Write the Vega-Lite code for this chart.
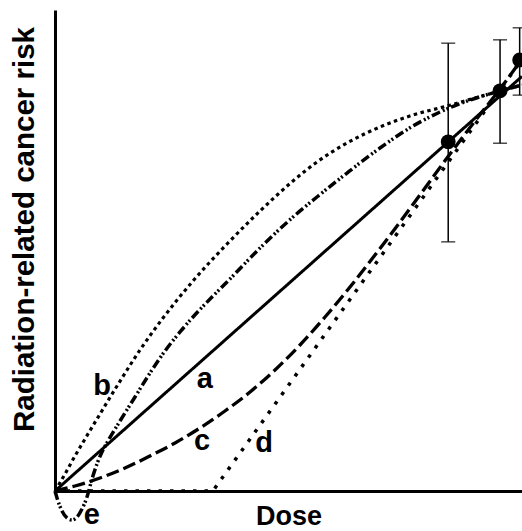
{
  "$schema": "https://vega.github.io/schema/vega-lite/v6.json",
  "width": 467,
  "height": 481,
  "autosize": {"type": "none"},
  "padding": {"left": 55, "top": 10, "right": 0, "bottom": 40},
  "background": "white",
  "view": {"stroke": null},
  "config": {"font": "Liberation Sans"},
  "datasets": {
    "curves": [
      {"curve": "a", "dose": 0, "risk": 0},
      {"curve": "a", "dose": 100, "risk": 86.2},
      {"curve": "b", "dose": 0, "risk": 0},
      {"curve": "b", "dose": 2.14, "risk": 3.53},
      {"curve": "b", "dose": 4.28, "risk": 7.28},
      {"curve": "b", "dose": 6.42, "risk": 10.81},
      {"curve": "b", "dose": 9.64, "risk": 16.01},
      {"curve": "b", "dose": 13.28, "risk": 21.83},
      {"curve": "b", "dose": 18.2, "risk": 29.31},
      {"curve": "b", "dose": 23.13, "risk": 35.97},
      {"curve": "b", "dose": 29.55, "risk": 43.66},
      {"curve": "b", "dose": 36.83, "risk": 51.35},
      {"curve": "b", "dose": 43.9, "risk": 58.21},
      {"curve": "b", "dose": 50.96, "risk": 64.45},
      {"curve": "b", "dose": 56.1, "risk": 68.4},
      {"curve": "b", "dose": 62.53, "risk": 72.35},
      {"curve": "b", "dose": 69.59, "risk": 75.68},
      {"curve": "b", "dose": 76.66, "risk": 78.17},
      {"curve": "b", "dose": 83.94, "risk": 80.04},
      {"curve": "b", "dose": 89.94, "risk": 81.7},
      {"curve": "b", "dose": 95.29, "risk": 83.16},
      {"curve": "b", "dose": 100, "risk": 84.41},
      {"curve": "c", "dose": 0, "risk": 0},
      {"curve": "c", "dose": 4.28, "risk": 1.04},
      {"curve": "c", "dose": 9.64, "risk": 2.7},
      {"curve": "c", "dose": 14.99, "risk": 4.78},
      {"curve": "c", "dose": 20.34, "risk": 7.28},
      {"curve": "c", "dose": 25.7, "risk": 9.98},
      {"curve": "c", "dose": 31.05, "risk": 13.1},
      {"curve": "c", "dose": 36.4, "risk": 16.63},
      {"curve": "c", "dose": 41.76, "risk": 20.58},
      {"curve": "c", "dose": 47.11, "risk": 25.16},
      {"curve": "c", "dose": 52.46, "risk": 30.35},
      {"curve": "c", "dose": 57.82, "risk": 36.17},
      {"curve": "c", "dose": 63.17, "risk": 42.41},
      {"curve": "c", "dose": 68.52, "risk": 49.06},
      {"curve": "c", "dose": 73.88, "risk": 55.93},
      {"curve": "c", "dose": 79.23, "risk": 62.99},
      {"curve": "c", "dose": 84.58, "risk": 70.06},
      {"curve": "c", "dose": 89.94, "risk": 76.92},
      {"curve": "c", "dose": 95.29, "risk": 83.58},
      {"curve": "c", "dose": 100, "risk": 89.81},
      {"curve": "d", "dose": 0, "risk": 0},
      {"curve": "d", "dose": 33.8, "risk": 0},
      {"curve": "d", "dose": 100, "risk": 89.8},
      {"curve": "e", "dose": 0, "risk": 0},
      {"curve": "e", "dose": 0.64, "risk": -2.08},
      {"curve": "e", "dose": 1.5, "risk": -4.16},
      {"curve": "e", "dose": 2.57, "risk": -5.61},
      {"curve": "e", "dose": 3.64, "risk": -6.03},
      {"curve": "e", "dose": 4.71, "risk": -5.41},
      {"curve": "e", "dose": 5.78, "risk": -3.74},
      {"curve": "e", "dose": 6.85, "risk": -1.25},
      {"curve": "e", "dose": 7.92, "risk": 2.49},
      {"curve": "e", "dose": 8.99, "risk": 5.61},
      {"curve": "e", "dose": 10.06, "risk": 8.11},
      {"curve": "e", "dose": 11.35, "risk": 10.4},
      {"curve": "e", "dose": 13.92, "risk": 14.55},
      {"curve": "e", "dose": 17.13, "risk": 19.54},
      {"curve": "e", "dose": 20.34, "risk": 24.53},
      {"curve": "e", "dose": 23.55, "risk": 29.11},
      {"curve": "e", "dose": 26.77, "risk": 33.06},
      {"curve": "e", "dose": 29.55, "risk": 36.17},
      {"curve": "e", "dose": 33.83, "risk": 40.54},
      {"curve": "e", "dose": 36.83, "risk": 43.45},
      {"curve": "e", "dose": 43.9, "risk": 50.52},
      {"curve": "e", "dose": 50.96, "risk": 56.96},
      {"curve": "e", "dose": 56.1, "risk": 61.12},
      {"curve": "e", "dose": 62.53, "risk": 66.11},
      {"curve": "e", "dose": 69.59, "risk": 71.31},
      {"curve": "e", "dose": 76.66, "risk": 75.88},
      {"curve": "e", "dose": 82.44, "risk": 78.79},
      {"curve": "e", "dose": 88.87, "risk": 81.29},
      {"curve": "e", "dose": 95.29, "risk": 83.16},
      {"curve": "e", "dose": 100, "risk": 84.41}
    ],
    "points": [
      {"dose": 84.2, "risk": 72.6, "lo": 51.8, "hi": 93.1},
      {"dose": 95.3, "risk": 83.2, "lo": 72.3, "hi": 93.8},
      {"dose": 99.5, "risk": 89.6, "lo": 82.3, "hi": 96.3}
    ],
    "labels": [
      {"label": "a", "dose": 32.1, "risk": 21.4},
      {"label": "b", "dose": 10.1, "risk": 20.0},
      {"label": "c", "dose": 31.5, "risk": 8.5},
      {"label": "d", "dose": 44.8, "risk": 8.1},
      {"label": "e", "dose": 7.9, "risk": -6.9}
    ]
  },
  "layer": [
    {
      "data": {"name": "curves"},
      "transform": [{"filter": "datum.curve !== 'd'"}],
      "mark": {"type": "line", "color": "black", "interpolate": "monotone"},
      "encoding": {
        "x": {
          "field": "dose", "type": "quantitative",
          "scale": {"domain": [0, 100], "nice": false, "zero": false},
          "axis": {
            "title": "Dose", "domain": true, "domainColor": "black", "domainWidth": 3,
            "ticks": false, "labels": false, "grid": false,
            "titleFont": "Liberation Sans", "titleFontSize": 27, "titleFontWeight": "bold",
            "titleColor": "black", "titleBaseline": "middle", "titleY": 25
          }
        },
        "y": {
          "field": "risk", "type": "quantitative",
          "scale": {"domain": [0, 100], "nice": false, "zero": false},
          "axis": {
            "title": "Radiation-related cancer risk", "domain": true, "domainColor": "black", "domainWidth": 3,
            "ticks": false, "labels": false, "grid": false,
            "titleFont": "Liberation Sans", "titleFontSize": 29.5, "titleFontWeight": "bold",
            "titleColor": "black", "titleBaseline": "middle", "titleAlign": "center",
            "titleAngle": 270, "titleX": -31, "titleY": 219
          }
        },
        "strokeDash": {
          "field": "curve", "type": "nominal", "legend": null,
          "scale": {"domain": ["a", "b", "c", "e"],
                    "range": [[1, 0], [3.5, 3.5], [13, 5], [9, 3, 2, 2, 2, 3]]}
        },
        "strokeWidth": {
          "field": "curve", "type": "nominal", "legend": null,
          "scale": {"domain": ["a", "b", "c", "e"], "range": [3, 3.5, 3.5, 3.5]}
        }
      }
    },
    {
      "data": {"name": "curves"},
      "transform": [{"filter": "datum.curve === 'd'"}],
      "mark": {"type": "line", "color": "black", "interpolate": "linear", "strokeDash": [3.5, 8], "strokeWidth": 3.5},
      "encoding": {
        "x": {"field": "dose", "type": "quantitative"},
        "y": {"field": "risk", "type": "quantitative"}
      }
    },
    {
      "data": {"name": "points"},
      "mark": {"type": "rule", "color": "black", "strokeWidth": 1.5},
      "encoding": {
        "x": {"field": "dose", "type": "quantitative"},
        "y": {"field": "lo", "type": "quantitative"},
        "y2": {"field": "hi"}
      }
    },
    {
      "data": {"name": "points"},
      "mark": {"type": "tick", "color": "black", "orient": "horizontal", "size": 14, "thickness": 1.5},
      "encoding": {
        "x": {"field": "dose", "type": "quantitative"},
        "y": {"field": "lo", "type": "quantitative"}
      }
    },
    {
      "data": {"name": "points"},
      "mark": {"type": "tick", "color": "black", "orient": "horizontal", "size": 14, "thickness": 1.5},
      "encoding": {
        "x": {"field": "dose", "type": "quantitative"},
        "y": {"field": "hi", "type": "quantitative"}
      }
    },
    {
      "data": {"name": "points"},
      "mark": {"type": "circle", "color": "black", "opacity": 1, "size": 220},
      "encoding": {
        "x": {"field": "dose", "type": "quantitative"},
        "y": {"field": "risk", "type": "quantitative"}
      }
    },
    {
      "data": {"name": "labels"},
      "mark": {"type": "text", "font": "Liberation Sans", "fontSize": 29, "fontWeight": "bold", "color": "black", "align": "center", "baseline": "alphabetic"},
      "encoding": {
        "x": {"field": "dose", "type": "quantitative"},
        "y": {"field": "risk", "type": "quantitative"},
        "text": {"field": "label"}
      }
    },
    {
      "mark": {"type": "rule", "color": "black", "strokeWidth": 2.5},
      "encoding": {"y": {"datum": 100}}
    }
  ]
}
